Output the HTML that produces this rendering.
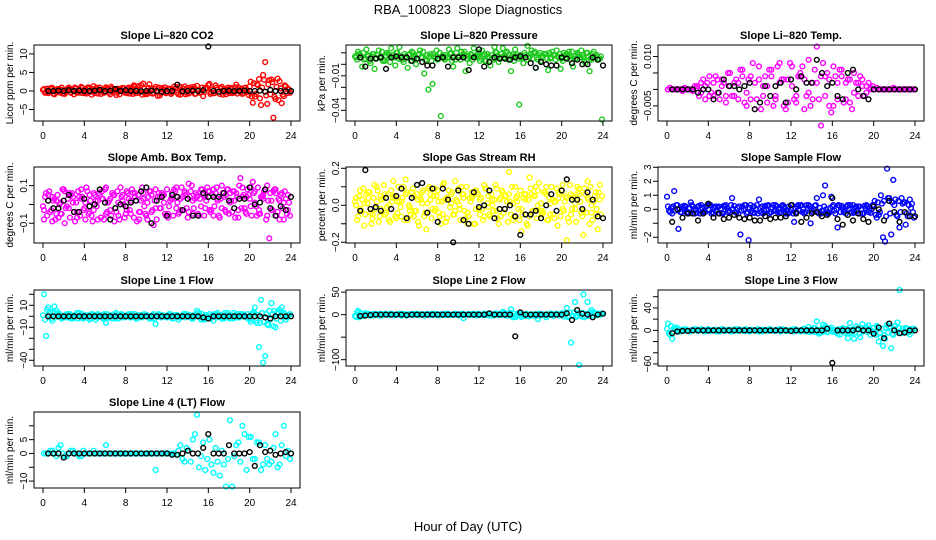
<!DOCTYPE html>
<html><head><meta charset="utf-8">
<style>
html,body{margin:0;padding:0;background:#fff;}
svg{display:block;font-family:"Liberation Sans",Arial,sans-serif;}
</style></head>
<body>
<svg id="chart" width="936" height="540" viewBox="0 0 936 540" xmlns="http://www.w3.org/2000/svg">
<text x="468" y="14" text-anchor="middle" font-size="13">RBA_100823&#160; Slope Diagnostics</text>
<text x="468" y="531" text-anchor="middle" font-size="13">Hour of Day (UTC)</text>
</svg>
<script>
const hoursA=[0.1,0.5,0.9,1.3,1.7,2.1,2.5,2.9,3.3,3.7,4.1,4.5,4.9,5.3,5.7,6.1,6.5,6.9,7.3,7.7,8.1,8.5,8.9,9.3,9.7,10.1,10.5,10.9,11.3,11.7,12.1,12.5,12.9,13.3,13.7,14.1,14.5,14.9,15.3,15.7,16.1,16.5,16.9,17.3,17.7,18.1,18.5,18.9,19.3,19.7,20.1,20.5,20.9,21.3,21.7,22.1,22.5,22.9,23.3,23.7];
const hoursB=[0.3,0.7,1.1,1.5,1.9,2.3,2.7,3.1,3.5,3.9,4.3,4.7,5.1,5.5,5.9,6.3,6.7,7.1,7.5,7.9,8.3,8.7,9.1,9.5,9.9,10.3,10.7,11.1,11.5,11.9,12.3,12.7,13.1,13.5,13.9,14.3,14.7,15.1,15.5,15.9,16.3,16.7,17.1,17.5,17.9,18.3,18.7,19.1,19.5,19.9,20.3,20.7,21.1,21.5,21.9,22.3,22.7,23.1,23.5,23.9];
const hoursF=[0,0.2,0.4,0.6,0.8,1,1.2,1.4,1.6,1.8,2,2.2,2.4,2.6,2.8,3,3.2,3.4,3.6,3.8,4,4.2,4.4,4.6,4.8,5,5.2,5.4,5.6,5.8,6,6.2,6.4,6.6,6.8,7,7.2,7.4,7.6,7.8,8,8.2,8.4,8.6,8.8,9,9.2,9.4,9.6,9.8,10,10.2,10.4,10.6,10.8,11,11.2,11.4,11.6,11.8,12,12.2,12.4,12.6,12.8,13,13.2,13.4,13.6,13.8,14,14.2,14.4,14.6,14.8,15,15.2,15.4,15.6,15.8,16,16.2,16.4,16.6,16.8,17,17.2,17.4,17.6,17.8,18,18.2,18.4,18.6,18.8,19,19.2,19.4,19.6,19.8,20,20.2,20.4,20.6,20.8,21,21.2,21.4,21.6,21.8,22,22.2,22.4,22.6,22.8,23,23.2,23.4,23.6,23.8];
const hoursK=[0.5,1,1.5,2,2.5,3,3.5,4,4.5,5,5.5,6,6.5,7,7.5,8,8.5,9,9.5,10,10.5,11,11.5,12,12.5,13,13.5,14,14.5,15,15.5,16,16.5,17,17.5,18,18.5,19,19.5,20,20.5,21,21.5,22,22.5,23,23.5,24];
const xTicks=[0,4,8,12,16,20,24];

const co2A=[0.5,-0.6,0.8,-0.3,0.4,-0.8,0.9,0.2,-0.5,1.1,-0.4,0.6,1.3,-0.7,0.3,1.0,-0.9,0.5,-0.2,0.8,-0.6,0.4,1.2,-0.5,2.0,-0.8,0.7,1.1,-1.2,0.3,0.6,-0.4,0.9,-1.0,1.2,-0.7,0.5,1.4,-0.3,0.8,1.9,-0.6,0.4,1.1,-0.9,0.7,-0.4,1.0,-0.8,0.3,2.5,-1.5,3.2,4.3,-3.5,3.1,-2.2,2.6,-1.4,0.6];
const co2B=[-0.4,0.7,-0.9,0.5,-0.7,0.3,-0.5,0.9,0.4,-0.6,0.8,-1.0,0.2,0.9,-0.5,0.4,0.7,-1.1,0.6,-0.4,0.9,-0.8,0.3,1.6,-0.9,1.8,-0.5,-1.3,0.8,-0.6,0.5,1.2,-0.9,0.6,-0.5,1.0,-0.8,0.3,-1.4,0.7,-0.5,1.5,-0.8,0.4,0.9,-0.6,1.7,-0.3,0.8,-1.1,-3.2,1.8,-3.8,7.8,2.9,-7.2,3.3,-3.3,1.2,-0.5];
const co2F=[0.3,-0.5,0.6,-0.2,0.8,-0.7,0.1,0.5,-0.4,0.9,-0.6,0.2,0.7,-0.3,0.4,-0.9,0.6,0.1,-0.5,0.8,0.3,-0.7,1.0,-0.2,0.5,-0.6,0.9,0.2,-0.8,0.4,-0.3,0.7,-0.5,1.1,0.2,-0.4,0.6,-0.9,0.3,0.8,-0.2,0.5,-0.7,0.9,1.5,-0.6,1.3,0.4,-1.0,0.6,-0.5,0.8,0.2,-0.7,0.5,-0.3,0.9,-0.6,0.4,1.0,-0.4,0.6,-0.8,0.3,0.7,-0.5,1.2,-0.2,0.6,-0.9,0.8,-0.4,0.5,1.1,-0.7,0.3,-0.5,0.9,-0.3,0.6,1.6,-0.8,0.4,-0.6,0.9,-0.2,0.7,-1.0,0.5,0.3,-0.6,0.8,-0.4,1.0,-0.7,0.2,0.6,-0.5,0.9,-0.3,1.2,-1.5,2.1,-0.8,1.6,-2.0,0.9,3.0,-1.2,1.8,-0.9,2.4,-1.6,1.1,-2.5,0.7,-1.0,1.5,-0.6,0.4];
const co2K=[0,0,0.1,0,0.2,0,0.1,0,0,0.1,0.3,0,0.1,0.5,0,0.2,0,0,-0.1,0,0.1,0,-0.2,0,0,1.7,-0.1,0,0.1,0,0.2,12,0,-0.2,0,0.1,0,0,0.1,0,0,0.1,-0.2,0.3,0,0,-0.1,0];

const presA=[0.006,0.008,0.004,0.007,0.009,0.005,0.007,0.003,0.008,0.006,0.010,0.004,0.007,0.009,0.005,0.008,0.006,0.003,0.009,0.007,0.005,0.008,0.006,0.010,0.004,0.007,0.009,0.005,0.008,0.006,0.003,0.009,0.007,0.005,0.010,0.006,0.008,0.004,0.009,0.007,0.005,0.008,0.006,0.010,0.004,0.007,0.009,0.005,0.008,0.006,0.003,0.009,0.007,0.005,0.008,0.006,0.010,0.004,0.007,0.005];
const presB=[0.011,-0.002,0.013,0.001,-0.004,0.012,0.003,0.010,0.014,-0.001,0.015,0.002,-0.003,0.011,0.000,0.012,-0.008,-0.022,-0.017,0.012,-0.045,0.004,0.013,-0.002,0.014,0.011,-0.006,0.001,0.014,0.010,0.012,0.003,-0.001,0.015,0.002,0.014,0.011,-0.006,0.013,-0.035,0.001,0.016,0.012,-0.003,0.010,0.009,-0.005,0.011,0.012,-0.004,0.008,0.011,-0.002,0.010,0.012,0.001,-0.006,0.011,0.004,-0.048];
const presF=[0.007,0.004,0.009,0.006,0.010,0.005,0.008,0.003,0.007,0.009,0.005,0.008,0.006,0.011,0.004,0.007,0.009,0.002,0.008,0.006,0.010,0.005,0.007,0.004,0.009,0.006,0.008,0.003,0.010,0.007,0.005,0.009,0.006,0.011,0.004,0.008,0.007,0.003,0.009,0.006,0.004,0.010,0.007,0.005,0.008,0.006,0.009,0.003,0.007,0.010,0.006,0.004,0.008,0.011,0.005,0.007,0.009,0.004,0.006,0.008,0.010,0.005,0.007,0.003,0.009,0.006,0.008,0.004,0.011,0.007,0.005,0.009,0.006,0.010,0.004,0.008,0.007,0.003,0.009,0.005,0.008,0.006,0.010,0.004,0.007,0.009,0.005,0.011,0.006,0.008,0.003,0.007,0.009,0.005,0.010,0.006,0.008,0.004,0.007,0.009,0.005,0.010,0.006,0.008,0.004,0.011,0.007,0.005,0.009,0.006,0.008,0.003,0.010,0.007,0.005,0.009,0.006,0.008,0.004,0.007];
const presK=[0.006,-0.002,0.005,0.005,0.006,-0.004,0.006,0.007,0.006,0.006,0.003,0.005,0.002,-0.001,-0.001,0.005,0.006,-0.002,0.006,0.006,0.006,-0.005,0.006,0.013,-0.002,0.002,0.006,0.005,0.005,0.004,0.006,0.007,0.006,0.001,-0.003,0.002,0.000,-0.001,-0.001,0.006,0.005,0.001,0.004,0.000,0.000,0.006,0.004,-0.001];

const tempA=[0,0,0,0,0,0,0,0.0004,0.002,-0.003,0.004,-0.002,0.003,0.001,-0.004,0.005,0.002,-0.003,0.006,-0.005,0.004,-0.006,0.007,0.001,-0.004,0.006,-0.002,0.008,-0.005,0.003,0.007,-0.004,0.005,-0.006,0.009,0.002,0.013,-0.011,0.004,-0.005,0.007,-0.003,0.006,0.002,-0.004,0.005,-0.002,0.003,0.001,0,0,0,0,0,0,0,0,0,0,0];
const tempB=[0.0005,0,0,-0.0005,0,0,0.001,-0.002,0.003,0.002,-0.001,0.004,-0.003,0.002,0.005,-0.002,0.003,0.006,-0.004,0.003,0.008,-0.003,-0.006,0.004,0.006,-0.005,0.007,0.003,-0.006,0.008,-0.003,0.004,0.007,-0.002,-0.005,0.006,-0.003,0.008,0.005,-0.007,0.004,0.006,-0.004,0.003,-0.006,0.002,0.004,-0.002,0.002,0.001,0.0005,0,0,0,0.0005,0,0,0,0,0];
const tempC=[0,0,0,0,0.0005,0,-0.0005,0.001,-0.001,0.001,-0.002,0.002,-0.001,0.003,-0.002,0.001,-0.002,0.002,0.004,-0.001,-0.003,0.002,0.003,-0.002,0.001,0.004,-0.003,0.002,0.003,-0.004,0.001,-0.002,0.004,0.003,-0.001,-0.003,0.002,0.004,-0.002,0.003,-0.005,0.002,0.004,-0.003,0.003,-0.001,0.002,0.001,-0.001,0.0005,0,0,0,0,0,0,0,0,0,0];
const tempK=[0,0,0,0,0,-0.001,0,0,-0.003,-0.001,0.003,0.001,0.001,0,0.001,0.002,-0.006,-0.004,0.001,-0.002,0.001,0.002,-0.004,0.003,0.000,0.004,0.002,0.002,0.009,0.005,0.001,0.002,-0.002,-0.003,0.005,0.006,0.000,-0.002,-0.003,0.000,0,0,0,0,0,0,0,0];

const ambA=[-0.03,0.05,-0.09,0.02,-0.05,0.07,-0.02,0.04,-0.07,0.08,0.01,-0.04,0.06,-0.08,0.03,0.09,-0.03,0.05,-0.06,0.02,0.07,-0.05,0.04,-0.08,0.06,0.01,-0.04,0.08,-0.02,0.05,-0.07,0.03,0.09,-0.03,0.06,0.11,-0.05,0.04,0.08,-0.02,0.07,-0.06,0.03,0.1,-0.04,0.06,0.02,-0.07,0.09,0.04,-0.01,0.07,-0.05,0.03,0.1,-0.03,0.06,0.02,-0.08,0.05];
const ambB=[0.06,-0.04,0.03,-0.07,0.08,-0.01,0.05,-0.09,0.04,-0.03,0.07,-0.06,0.02,0.05,-0.08,0.01,0.06,-0.04,0.09,-0.07,0.03,0.06,-0.09,0.02,-0.05,0.07,-0.11,0.04,0.06,-0.06,0.02,0.08,-0.05,0.04,-0.02,0.07,0.03,-0.06,0.05,0.09,-0.03,0.06,-0.07,0.04,0.08,-0.04,0.06,0.14,-0.02,0.05,0.12,-0.06,0.04,0.08,-0.18,0.07,-0.04,0.06,0.03,-0.06];
const ambC=[-0.08,0.02,0.04,-0.05,0.01,-0.1,0.06,0.01,-0.04,0.03,-0.08,0.05,-0.03,0.02,0.07,-0.05,0.03,-0.09,0.01,0.05,-0.03,0.02,0.06,-0.04,0.03,-0.08,0.05,-0.02,0.04,0.01,-0.05,0.06,-0.02,0.03,0.07,-0.04,0.02,0.05,-0.01,0.04,-0.03,0.08,0.02,-0.02,0.05,0.01,0.07,-0.03,0.04,-0.05,0.09,0.01,-0.03,0.05,-0.06,0.02,0.08,-0.08,0.01,-0.03];
const ambF=[-0.01,0.04,-0.06,0.07,-0.03,0.02,-0.08,0.05,0.0,-0.05,0.08,-0.02,0.03,-0.07,0.06,-0.04,0.01,0.07,-0.06,0.04,-0.02,0.09,-0.05,0.02,-0.09,0.05,-0.01,0.06,-0.07,0.03,0.08,-0.04,0.02,-0.06,0.05,-0.02,0.07,-0.08,0.04,0.0,-0.05,0.06,-0.03,0.08,-0.07,0.02,0.05,-0.04,0.09,-0.01,-0.06,0.04,0.07,-0.03,0.02,-0.08,0.06,-0.02,0.05,-0.05,0.08,-0.01,0.03,-0.06,0.07,0.01,-0.04,0.09,-0.03,0.05,-0.07,0.04,0.1,-0.02,0.06,-0.05,0.03,0.08,-0.06,0.02,0.07,-0.04,0.05,-0.01,0.09,-0.06,0.03,0.06,-0.03,0.08,-0.05,0.02,0.07,-0.07,0.04,0.1,-0.02,0.05,-0.04,0.08,0.03,-0.06,0.06,-0.01,0.09,-0.05,0.04,0.07,-0.08,0.02,0.06,-0.03,0.08,-0.06,0.03,0.05,-0.02,0.07,-0.05,0.01];
const ambK=[0.02,-0.02,-0.02,0.02,0.05,-0.04,-0.04,0.03,-0.01,0.0,0.08,0.01,-0.08,-0.02,0.0,-0.01,0.01,0.02,0.07,0.09,-0.1,0.02,0.04,-0.06,0.05,0.04,-0.03,0.03,-0.06,-0.06,0.06,0.04,0.04,0.04,0.06,0.02,-0.02,0.03,0.03,0.09,0.0,0.01,0.08,-0.02,-0.06,-0.01,-0.03,0.04];

const rhA=[0.0,0.08,-0.11,0.04,-0.05,0.1,-0.02,0.06,-0.08,0.13,0.02,-0.06,0.14,-0.03,0.05,-0.09,0.07,-0.13,0.03,0.09,-0.04,0.11,-0.07,0.01,0.13,-0.02,0.06,-0.1,0.04,0.08,-0.05,0.11,-0.01,0.03,0.09,-0.06,0.05,0.18,-0.08,0.02,-0.14,0.06,0.15,-0.03,0.08,-0.05,0.1,0.01,-0.07,0.04,0.11,-0.19,0.06,-0.02,0.09,-0.16,0.13,-0.04,0.07,0.11];
const rhB=[-0.06,0.03,0.06,-0.04,0.11,-0.09,0.04,-0.01,0.08,-0.06,0.02,0.1,-0.08,0.07,-0.03,0.04,-0.06,0.09,-0.02,0.05,-0.1,0.03,0.08,-0.05,0.02,0.1,-0.07,0.04,-0.1,0.06,-0.02,0.09,-0.06,0.03,-0.1,0.07,0.02,-0.05,0.1,-0.08,0.04,-0.11,0.06,0.1,-0.03,0.07,-0.08,0.03,0.09,-0.06,0.02,-0.09,0.05,0.1,-0.04,0.06,-0.1,0.02,-0.13,0.05];
const rhC=[0.04,-0.02,0.01,0.07,-0.07,0.02,0.05,-0.05,0.0,0.04,-0.04,0.02,0.06,-0.01,-0.06,0.03,0.01,-0.04,0.06,-0.03,0.02,-0.05,0.04,0.06,-0.03,0.0,0.04,-0.04,0.07,-0.02,0.03,-0.06,0.05,0.0,-0.03,0.04,-0.02,0.06,0.01,0.05,-0.02,0.03,-0.06,0.05,0.0,-0.03,0.06,-0.05,0.02,0.07,-0.02,0.04,-0.05,0.01,0.06,-0.03,0.04,0.0,-0.05,0.03];
const rhF=[0.02,-0.08,0.05,-0.03,0.09,-0.05,0.01,0.07,-0.1,0.04,-0.02,0.08,-0.06,0.03,0.11,-0.04,0.06,-0.09,0.02,0.05,-0.07,0.1,-0.01,0.04,-0.08,0.07,0.0,-0.05,0.09,-0.03,0.06,-0.11,0.03,0.08,-0.04,0.01,0.1,-0.07,0.05,-0.02,0.08,-0.06,0.02,0.12,-0.09,0.04,-0.01,0.07,-0.05,0.03,0.09,-0.08,0.06,-0.03,0.1,-0.06,0.02,0.05,-0.1,0.07,-0.02,0.04,-0.08,0.09,0.01,-0.05,0.06,-0.03,0.11,-0.07,0.03,0.08,-0.04,0.05,-0.09,0.02,0.1,-0.06,0.04,-0.02,0.08,-0.05,0.06,-0.1,0.03,0.09,-0.03,0.05,-0.07,0.12,0.01,-0.04,0.07,-0.08,0.04,0.1,-0.05,0.02,-0.11,0.06,0.08,-0.03,0.05,-0.07,0.11,-0.02,0.04,-0.09,0.07,0.02,-0.06,0.09,-0.04,0.03,0.1,-0.08,0.05,-0.02,0.07,-0.05];
const rhK=[-0.03,0.19,-0.02,-0.01,-0.03,0.04,-0.02,0.05,0.09,-0.07,0.04,0.11,0.12,-0.04,0.09,-0.09,0.09,0.03,-0.2,0.08,-0.08,-0.1,0.07,-0.01,0.0,0.08,-0.07,-0.02,-0.02,0.0,-0.06,-0.16,-0.05,-0.05,-0.03,-0.07,0.0,0.06,-0.03,0.08,0.14,0.03,0.03,-0.02,0.07,0.03,-0.06,-0.07];

const sfA=[0.2,-0.3,0.3,-0.2,0.25,-0.3,0.2,-0.25,0.3,-0.2,0.3,-0.3,0.15,-0.25,0.3,-0.2,0.25,-0.3,0.2,-0.3,0.3,-0.25,0.7,-0.3,0.25,-0.2,0.3,-0.25,0.2,-0.3,0.3,-0.2,0.25,-0.3,0.3,-0.2,0.8,-0.3,1.7,-0.25,0.3,-1.3,0.25,-0.3,0.3,-0.25,0.2,-0.3,0.3,-0.25,0.6,-0.4,-2.0,2.9,-1.8,0.7,-1.3,0.5,-0.5,0.4];
const sfB=[-0.2,1.3,-1.4,0.2,-0.25,0.5,-0.3,0.25,-0.2,0.3,-0.3,0.2,-0.3,0.25,-0.2,0.8,-0.25,-1.8,0.3,-2.2,-0.25,0.3,-0.2,0.25,-0.3,0.3,-0.2,0.25,-0.3,-0.2,-0.9,0.3,-0.2,0.3,-1.0,0.25,-0.3,1.0,-0.2,0.9,-0.3,0.25,-0.2,0.3,-0.25,0.2,-0.3,0.25,-0.2,0.3,-0.6,1.0,-2.3,0.8,2.1,-0.5,0.8,-1.1,0.7,-0.6];
const sfF=[0.9,-0.1,0.1,0.2,-0.1,0.3,0.0,-0.2,0.1,0.2,-0.2,0.1,0.3,-0.1,0.0,0.2,-0.3,0.1,-0.1,0.2,0.0,0.3,-0.2,0.1,-0.1,0.2,0.0,-0.3,0.2,0.1,-0.1,0.3,0.0,-0.2,0.1,0.2,-0.1,0.0,0.3,-0.2,0.1,-0.1,0.2,0.0,-0.3,0.1,0.2,-0.1,0.0,0.3,-0.2,0.1,-0.1,0.2,0.0,-0.2,0.3,0.1,-0.1,0.2,0.0,-0.3,0.1,0.2,-0.1,0.3,0.0,-0.2,0.1,0.2,-0.1,0.0,0.3,-0.2,0.1,-0.1,0.2,0.0,-0.3,0.1,0.2,-0.1,0.0,0.3,-0.2,0.1,-0.1,0.2,0.0,-0.2,0.3,0.1,-0.1,0.2,0.0,-0.3,0.1,0.2,-0.1,0.0,0.3,-0.4,0.5,-0.2,0.4,0.6,-0.5,0.8,-0.3,0.5,0.3,-0.4,0.6,-0.2,0.4,0.5,-0.3,0.3,0.1,-0.2];
const sfK=[-0.9,0.0,-0.6,-0.3,-0.3,-0.8,-0.3,0.4,-0.6,-0.3,-0.7,-0.6,-0.4,-0.6,-0.7,-0.6,-0.8,-0.8,-0.5,-0.7,-0.6,-0.6,-0.5,0.3,-0.3,-0.9,-0.6,-0.3,-0.2,-0.5,-0.4,0.8,-0.7,-1.1,-0.4,-0.8,-0.3,-0.7,-0.9,0.2,0.0,-0.8,0.6,-0.2,-0.9,-0.2,-0.5,-0.5];

const l1A=[20,8,-4,5,1,-1,2,-2,3,-1,1,-3,1,2,-1,-6,1,2,-2,1,1,-1,2,-1,0,1,-2,-7,1,0,1,-2,1,-1,2,1,-2,5,-3,1,2,-4,3,-2,1,-2,3,-1,2,-1,-5,8,-28,-42,-7,12,-10,6,3,1];
const l1B=[-18,4,9,3,-1,2,-2,1,3,-2,0,2,-3,1,2,-1,-2,3,1,-1,2,0,-2,1,1,-2,2,0,1,-1,2,1,-3,0,2,-1,1,3,-2,0,-1,2,1,-2,3,0,-1,2,1,-2,3,-6,15,-36,5,-9,4,8,-3,2];
const l1F=[1,-3,6,2,-2,4,-1,2,1,-2,0,1,-1,2,0,-1,1,-2,1,2,-1,0,1,-2,2,0,-1,1,0,-2,1,2,-1,0,1,-2,1,0,2,-1,0,1,-1,2,0,-2,1,0,-1,2,1,-1,0,1,-2,0,2,-1,1,0,-1,2,0,-2,1,1,-1,0,2,-1,0,1,-2,1,0,3,-1,2,-3,1,0,-2,1,2,-1,0,1,-2,3,-1,1,0,-2,1,2,-1,0,1,-1,2,-3,2,4,-4,1,-6,3,-5,2,-8,-3,2,5,-2,3,-4,1,2,-1,1];
const l1K=[0,0,0,0,0,0,0,0,0,0,0,0,0,0,0,0,0,0,0,0,0,0,0,0,0,0,0,0,0,0,-1,-2,0,0,0,0,0,0,0,0,0,0,-1,-2,0,0,0,0];

const l2A=[-5,4,-3,2,-2,1,0,2,-1,1,0,-2,1,0,2,-1,0,1,-1,2,0,-1,1,0,2,-1,-8,1,0,1,-1,2,1,-2,3,1,4,-2,-6,1,-5,1,-3,0,-10,1,-6,2,0,-1,3,15,-62,28,-112,45,28,10,3,1];
const l2B=[8,-3,2,-1,1,-2,1,0,1,-1,2,0,-1,1,0,1,-2,1,0,-1,1,2,-1,0,1,-1,0,1,-1,2,0,-1,1,2,-1,6,-1,12,-4,2,-1,0,1,-2,1,0,-1,1,2,-1,0,-3,-3,-2,-4,-3,-2,5,-1,3];
const l2F=[-3,5,-6,2,-2,3,0,-2,1,2,-1,0,2,-2,1,0,-1,2,1,-2,0,1,-1,2,0,-2,1,1,-1,0,2,-1,0,1,-2,1,0,2,-1,0,1,-2,1,0,-1,2,0,-1,1,0,-2,1,2,-1,0,1,-1,2,0,-2,1,0,-1,2,1,-2,0,1,-1,2,0,-1,3,-2,1,4,-3,2,-5,3,-2,1,-3,2,-4,0,-2,1,-3,2,-1,0,-2,1,-1,2,-3,1,0,-2,3,-4,2,-6,4,-3,5,-5,3,-2,4,-6,2,-3,5,-2,3,-1,2,0];
const l2K=[-3,-2,-1,0,0,0,0,0,0,-1,0,0,0,0,0,0,0,0,0,0,0,0,0,0,0,3,0,0,0,0,-48,5,0,0,0,0,0,0,0,0,3,-12,10,2,0,-6,0,2];

const l3A=[12,-15,5,-2,2,-1,1,0,2,-1,1,0,-1,2,0,1,-1,2,0,-1,1,0,-2,1,0,1,-1,2,0,-1,1,0,-2,3,6,-2,16,-4,8,2,-3,-6,1,-5,13,-15,2,11,6,-8,-3,-20,-28,10,-32,8,72,3,-4,2];
const l3B=[-8,4,-2,1,0,-1,2,0,1,-1,0,1,-2,0,1,-1,2,0,-1,1,0,-1,1,0,2,-1,0,1,-1,0,2,-1,1,0,-2,4,-6,10,-3,5,-2,-8,3,-14,-5,7,-12,2,9,-3,8,-12,-15,6,-8,14,-5,4,-7,3];
const l3F=[3,-6,8,-3,2,4,-2,1,-1,2,0,-2,1,0,2,-1,1,0,-2,1,2,-1,0,1,-2,1,0,2,-1,0,1,-2,1,2,-1,0,1,-1,2,0,-2,1,0,-1,2,1,-2,0,1,-1,2,0,-1,1,0,-2,2,1,-1,0,1,-2,2,0,-1,1,3,-2,1,-3,2,4,-3,1,-4,3,-2,5,-3,2,-1,1,-3,2,-1,4,-2,3,-5,1,2,-4,3,-6,4,-2,5,-3,2,-1,4,-8,6,-5,3,-9,5,-4,7,-6,2,-3,5,-4,3,-2,4,-3,2,-1];
const l3K=[-5,-2,-1,-1,0,0,0,0,0,0,0,0,0,0,0,0,0,0,0,0,0,0,0,-1,0,0,0,0,0,0,3,-58,0,0,0,0,2,0,0,-6,5,-14,12,0,-5,-4,0,0];

const l4A=[0,0,1,-1,3,-1,0,1,0,-1,0,0,1,0,0,3,0,0,0,0,0,0,0,0,0,0,0,-6,0,0,0,0,-0.5,3,-3,1,5,14,-1,-6,5,-7,-3,1,-12,12,-1,4,10,-6,6,-2,4,-4,-2,-3,7,-4,10,1];
const l4B=[0,1,0,2,0,-1,1,0,-1,1,0,0,0,0,0,0,0,0,0,0,0,0,0,0,0,0,0,0,0,0,0,0,1,-2,2,-3,7,-5,4,-2,-4,2,-8,-4,-2,-12,3,-3,7,6,-2,4,-6,3,-4,2,-5,3,-1,-2];
const l4K=[0,0,0,-1.5,0,0,0,0,0,0,0,0,0,0,0,0,0,0,0,0,0,0,0,0,-0.5,-0.5,0,1,0,0,2,7,0,0,0,3,0,0,0,0.5,-4.5,3,0.5,1,-0.5,0,0.5,0];

const panels=[
 {name:'co2',title:'Slope Li\u2013820 CO2',ylab:'Licor ppm per min.',col:0,row:0,dom:[12.4,-8.1],ticks:[10,5,0,-5],labels:['10','5','0','\u22125'],color:'#ff0000',series:[[hoursF,co2F],[hoursA,co2A],[hoursB,co2B]],black:co2K},
 {name:'pressure',title:'Slope Li\u2013820 Pressure',ylab:'kPa per min.',col:1,row:0,dom:[0.0168,-0.0493],ticks:[0.01,0,-0.01,-0.02,-0.03,-0.04],labels:['','','\u22120.01','','','\u22120.04'],color:'#1ec81e',series:[[hoursF,presF],[hoursA,presA],[hoursB,presB]],black:presK},
 {name:'li820-temp',title:'Slope Li\u2013820 Temp.',ylab:'degrees C per min.',col:2,row:0,dom:[0.0135,-0.0096],ticks:[0.01,0.005,0,-0.005],labels:['0.010','','','\u22120.005'],color:'#ff00ff',series:[[hoursA,tempA],[hoursB,tempB],[hoursA,tempC]],black:tempK},
 {name:'amb-box-temp',title:'Slope Amb. Box Temp.',ylab:'degrees C per min.',col:0,row:1,dom:[0.199,-0.205],ticks:[0.1,0,-0.1],labels:['0.1','','\u22120.1'],color:'#ff00ff',series:[[hoursA,ambA],[hoursB,ambB],[hoursA,ambC],[hoursF,ambF]],black:ambK},
 {name:'gas-stream-rh',title:'Slope Gas Stream RH',ylab:'percent per min.',col:1,row:1,dom:[0.207,-0.204],ticks:[0.2,0.1,0,-0.1,-0.2],labels:['0.2','','0.0','','\u22120.2'],color:'#ffff00',series:[[hoursA,rhA],[hoursB,rhB],[hoursA,rhC],[hoursF,rhF]],black:rhK},
 {name:'sample-flow',title:'Slope Sample Flow',ylab:'ml/min per min.',col:2,row:1,dom:[3.02,-2.41],ticks:[3,2,1,0,-1,-2],labels:['3','2','1','0','','\u22122'],color:'#0000ff',series:[[hoursF,sfF],[hoursA,sfA],[hoursB,sfB]],black:sfK},
 {name:'line1-flow',title:'Slope Line 1 Flow',ylab:'ml/min per min.',col:0,row:2,dom:[23.9,-45.2],ticks:[20,10,0,-10,-20,-30,-40],labels:['','10','','\u221210','','','\u221240'],color:'#00ffff',series:[[hoursF,l1F],[hoursA,l1A],[hoursB,l1B]],black:l1K},
 {name:'line2-flow',title:'Slope Line 2 Flow',ylab:'ml/min per min.',col:1,row:2,dom:[54.7,-114],ticks:[50,0,-50,-100],labels:['50','0','','\u2212100'],color:'#00ffff',series:[[hoursF,l2F],[hoursA,l2A],[hoursB,l2B]],black:l2K},
 {name:'line3-flow',title:'Slope Line 3 Flow',ylab:'ml/min per min.',col:2,row:2,dom:[72,-63.6],ticks:[60,40,20,0,-20,-40,-60],labels:['','40','','0','','','\u221260'],color:'#00ffff',series:[[hoursF,l3F],[hoursA,l3A],[hoursB,l3B]],black:l3K},
 {name:'line4-flow',title:'Slope Line 4 (LT) Flow',ylab:'ml/min per min.',col:0,row:3,dom:[15,-12.5],ticks:[10,5,0,-5,-10],labels:['','5','0','','\u221210'],color:'#00ffff',series:[[hoursA,l4A],[hoursB,l4B]],black:l4K}
];

const NS='http://www.w3.org/2000/svg';
const svg=document.getElementById('chart');
const tops=[45,167,290,412];
function mk(tag,attrs,parent){const e=document.createElementNS(NS,tag);for(const k in attrs)e.setAttribute(k,attrs[k]);(parent||svg).appendChild(e);return e;}

panels.forEach(p=>{
  const bx=34+312*p.col, bw=266, by=tops[p.row], bh=76;
  const g=mk('g',{});
  
  
  const sx=h=>bx+9+h*(248/24);
  const sy=v=>by+(p.dom[0]-v)/(p.dom[0]-p.dom[1])*bh;
  const t=mk('text',{x:bx+bw/2,y:by-6,'text-anchor':'middle','font-size':'11','font-weight':'bold'},g);
  t.textContent=p.title;
  
  
  const pts=mk('g',{fill:'none','stroke-width':'1.4'},g);
  
  
  p.series.forEach(s=>{
    const hs=s[0], vs=s[1];
    vs.forEach((v,i)=>{
      const c=mk('circle',{cx:sx(hs[i]).toFixed(1),cy:sy(v).toFixed(1),r:'2.4',stroke:p.color},pts);
      
      
    });
  });
  p.black.forEach((v,i)=>{
    const c=mk('circle',{cx:sx(hoursK[i]).toFixed(1),cy:sy(v).toFixed(1),r:'2.4',stroke:'#000'},pts);
    
    
  });
  const r=mk('rect',{x:bx,y:by,width:bw,height:bh,fill:'none',stroke:'#000','stroke-width':'1'},g);
  
  
  const xa=mk('g',{},g);
  
  
  mk('line',{x1:sx(xTicks[0]),x2:sx(xTicks[xTicks.length-1]),y1:by+bh,y2:by+bh,stroke:'#000'},xa);
  xTicks.forEach(h=>{
    mk('line',{x1:sx(h),x2:sx(h),y1:by+bh,y2:by+bh+5,stroke:'#000'},xa);
    const tl=mk('text',{x:sx(h),y:by+bh+18,'text-anchor':'middle','font-size':'10'},xa);
    tl.textContent=String(h);
    
    
  });
  const ya=mk('g',{},g);
  
  
  mk('line',{x1:bx,x2:bx,y1:sy(p.ticks[0]),y2:sy(p.ticks[p.ticks.length-1]),stroke:'#000'},ya);
  p.ticks.forEach((v,i)=>{
    const y=sy(v);
    mk('line',{x1:bx-5,x2:bx,y1:y,y2:y,stroke:'#000'},ya);
    if(p.labels[i]){
      const tl=mk('text',{x:bx-7,y:y,'text-anchor':'middle','font-size':'10',transform:'rotate(-90 '+(bx-7)+' '+y+')'},ya);
      tl.textContent=p.labels[i];
      
      
    }
  });
  const cy=by+bh/2;
  const yl=mk('text',{x:bx-21,y:cy,'text-anchor':'middle','font-size':'10',transform:'rotate(-90 '+(bx-21)+' '+cy+')'},g);
  yl.textContent=p.ylab;
  
  
});
</script>
</body></html>
